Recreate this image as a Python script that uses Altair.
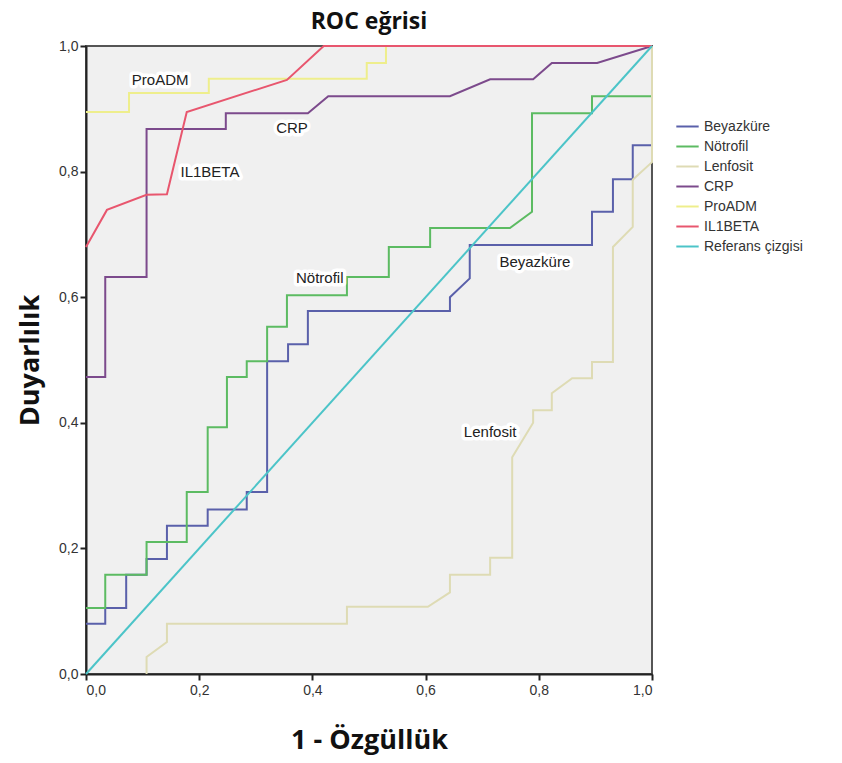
import altair as alt
import pandas as pd

series_names = ["Beyazküre", "Nötrofil", "Lenfosit", "CRP", "ProADM", "IL1BETA", "Referans çizgisi"]
series_colors = ["#5a60aa", "#5cbb62", "#dedbb4", "#7c4a8c", "#eeee8c", "#e8566e", "#4cc4c8"]

beyaz_x = [0, 0.034, 0.034, 0.071, 0.071, 0.107, 0.107, 0.143, 0.143, 0.215, 0.215, 0.284, 0.284, 0.32, 0.32,
           0.357, 0.357, 0.392, 0.392, 0.643, 0.643, 0.678, 0.678, 0.894, 0.894, 0.931, 0.931, 0.966, 0.966, 1.0, 1.0]
beyaz_y = [0.08, 0.08, 0.105, 0.105, 0.158, 0.158, 0.183, 0.183, 0.236, 0.236, 0.262, 0.262, 0.29, 0.29, 0.498,
           0.498, 0.525, 0.525, 0.578, 0.578, 0.60, 0.63, 0.683, 0.683, 0.736, 0.736, 0.788, 0.788, 0.842, 0.842, 1.0]

notro_x = [0, 0.034, 0.034, 0.107, 0.107, 0.178, 0.178, 0.215, 0.215, 0.249, 0.249, 0.284, 0.284, 0.32, 0.32,
           0.355, 0.355, 0.461, 0.461, 0.535, 0.535, 0.608, 0.608, 0.749, 0.788, 0.788, 0.894, 0.894, 1.0, 1.0]
notro_y = [0.105, 0.105, 0.158, 0.158, 0.21, 0.21, 0.29, 0.29, 0.393, 0.393, 0.473, 0.473, 0.498, 0.498, 0.553,
           0.553, 0.603, 0.603, 0.632, 0.632, 0.68, 0.68, 0.71, 0.71, 0.736, 0.893, 0.893, 0.92, 0.92, 1.0]

lenf_x = [0.107, 0.107, 0.143, 0.143, 0.461, 0.461, 0.604, 0.643, 0.643, 0.714, 0.714, 0.753, 0.753, 0.79, 0.79,
          0.823, 0.823, 0.859, 0.894, 0.894, 0.931, 0.931, 0.966, 0.966, 1.0, 1.0]
lenf_y = [0.0, 0.027, 0.051, 0.08, 0.08, 0.107, 0.107, 0.13, 0.158, 0.158, 0.185, 0.185, 0.345, 0.40, 0.42,
          0.42, 0.447, 0.471, 0.471, 0.497, 0.497, 0.68, 0.712, 0.787, 0.815, 1.0]

crp_x = [0, 0.034, 0.034, 0.107, 0.107, 0.247, 0.247, 0.392, 0.428, 0.643, 0.714, 0.79, 0.823, 0.903, 1.0]
crp_y = [0.473, 0.473, 0.632, 0.632, 0.868, 0.868, 0.893, 0.893, 0.92, 0.92, 0.947, 0.947, 0.973, 0.973, 1.0]

proadm_x = [0, 0.076, 0.076, 0.217, 0.217, 0.496, 0.496, 0.53, 0.53, 1.0]
proadm_y = [0.895, 0.895, 0.925, 0.925, 0.948, 0.948, 0.973, 0.973, 1.0, 1.0]

il1_x = [0, 0.037, 0.107, 0.143, 0.178, 0.355, 0.42, 1.0]
il1_y = [0.68, 0.739, 0.763, 0.764, 0.895, 0.946, 1.0, 1.0]

ref_x = [0, 1]
ref_y = [0, 1]

label_text = ["ProADM", "CRP", "IL1BETA", "Nötrofil", "Beyazküre", "Lenfosit"]
label_x = [0.131, 0.364, 0.219, 0.413, 0.793, 0.714]
label_y = [0.946, 0.869, 0.800, 0.631, 0.656, 0.385]

tick_values = [0.0, 0.2, 0.4, 0.6, 0.8, 1.0]

all_x = [beyaz_x, notro_x, lenf_x, crp_x, proadm_x, il1_x, ref_x]
all_y = [beyaz_y, notro_y, lenf_y, crp_y, proadm_y, il1_y, ref_y]

rows = []
for name, xs, ys in zip(series_names, all_x, all_y):
    for i, (xv, yv) in enumerate(zip(xs, ys)):
        rows.append({"series": name, "x": xv, "y": yv, "i": i})
df = pd.DataFrame(rows)
lab = pd.DataFrame({"t": label_text, "x": label_x, "y": label_y})

label_expr = "replace(format(datum.value, '.1f'), '.', ',')"

xscale = alt.Scale(domain=[0, 1], nice=False, zero=False)
yscale = alt.Scale(domain=[0, 1], nice=False, zero=False)

lines = alt.Chart(df).mark_line(strokeWidth=2, clip=False).encode(
    x=alt.X("x:Q", scale=xscale,
            axis=alt.Axis(values=tick_values, labelExpr=label_expr, grid=False,
                          title="1 - Özgüllük", titleFontSize=27, titleFontWeight="bold",
                          titleFont="Open Sans", titleColor="#111",
                          titleX=283, titleY=66, titleBaseline="middle", titleAlign="center",
                          labelFontSize=14, labelColor="#333", labelFont="Liberation Sans",
                          domainColor="#222", domainWidth=2, tickColor="#222", tickWidth=2,
                          tickSize=6, labelPadding=3)),
    y=alt.Y("y:Q", scale=yscale,
            axis=alt.Axis(values=tick_values, labelExpr=label_expr, grid=False,
                          title="Duyarlılık", titleFontSize=27, titleFontWeight="bold",
                          titleFont="Open Sans", titleColor="#111",
                          titleX=-56, titleY=314, titleBaseline="middle", titleAlign="center",
                          titleAngle=-90,
                          labelFontSize=14, labelColor="#333", labelFont="Liberation Sans",
                          domainColor="#222", domainWidth=2, tickColor="#222", tickWidth=2,
                          tickSize=6, labelPadding=2)),
    color=alt.Color("series:N",
                    scale=alt.Scale(domain=series_names, range=series_colors),
                    sort=series_names,
                    legend=alt.Legend(title=None, orient="none", legendX=589, legendY=68,
                                      symbolType="stroke", symbolSize=500, symbolStrokeWidth=2,
                                      labelFontSize=14, labelColor="#333", labelFont="Liberation Sans",
                                      rowPadding=0, labelOffset=4)),
    order=alt.Order("i:Q"),
)

halo = alt.Chart(lab).mark_text(fontSize=15, font="Liberation Sans", stroke="white",
                                strokeWidth=7, color="white", strokeJoin="round").encode(
    x="x:Q", y="y:Q", text="t:N")
texts = alt.Chart(lab).mark_text(fontSize=15, font="Liberation Sans", color="#222").encode(
    x="x:Q", y="y:Q", text="t:N")

chart = alt.layer(lines, halo, texts).properties(
    width=566, height=628,
    title=alt.TitleParams("ROC eğrisi", fontSize=23, fontWeight="bold", font="Open Sans",
                          anchor="middle", offset=5, color="#111"),
    autosize=alt.AutoSizeParams(type="none"),
    padding={"left": 86, "top": 46, "right": 190, "bottom": 89},
    background="white",
).configure_view(fill="#f0f0f0", stroke="#555", strokeWidth=2)

chart.save("out.html", embed_options={"renderer": "svg", "actions": False})
